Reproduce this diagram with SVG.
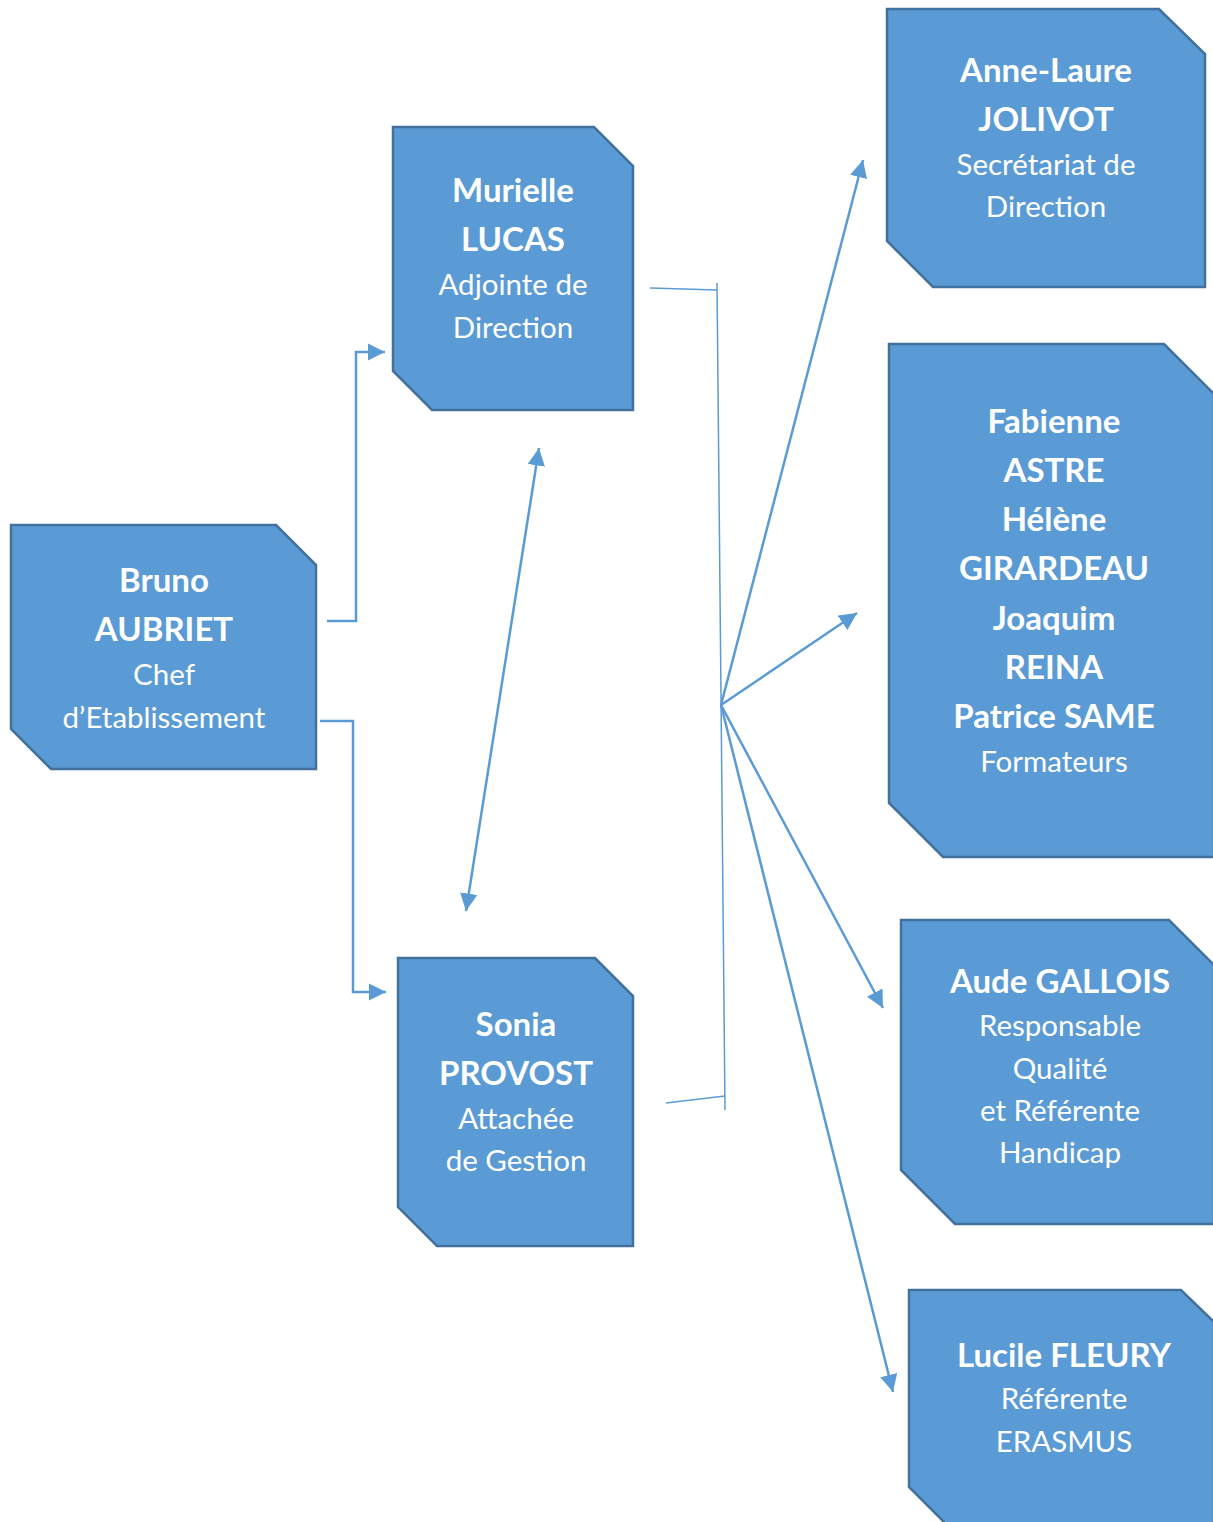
<svg xmlns="http://www.w3.org/2000/svg" width="1213" height="1522" viewBox="0 0 1213 1522">
<defs>
<marker id="arr" viewBox="0 0 10 10" refX="10" refY="5" markerWidth="7" markerHeight="7" orient="auto-start-reverse" markerUnits="strokeWidth">
<path d="M0,0 L10,5 L0,10 z" fill="#5B9BD5"/>
</marker>
</defs>
<style>
.box{fill:#5B9BD5;stroke:#41719C;stroke-width:2.5;}
.t{font-family:Lato,"Open Sans","Noto Sans",sans-serif;fill:#ffffff;text-anchor:middle;}
.b{font-weight:bold;font-size:33px;}
.r{font-size:29.5px;}
.c{fill:none;stroke:#5B9BD5;stroke-width:2.5;}
.th{fill:none;stroke:#5B9BD5;stroke-width:1.5;}
</style>
<rect width="1213" height="1522" fill="#ffffff"/>
<g id="connectors">
<polyline class="c" points="327,621 356,621 356,352 385,352" marker-end="url(#arr)"/>
<polyline class="c" points="320,721 353,721 353,992 386,992" marker-end="url(#arr)"/>
<line class="c" x1="539" y1="448" x2="466" y2="911" marker-start="url(#arr)" marker-end="url(#arr)"/>
<polyline class="th" points="650,288 717,290"/>
<line class="th" x1="717" y1="283" x2="725" y2="1110"/>
<polyline class="th" points="666,1103 725,1096"/>
<line class="c" x1="721" y1="705" x2="863" y2="160" marker-end="url(#arr)"/>
<line class="c" x1="721" y1="705" x2="857" y2="613" marker-end="url(#arr)"/>
<line class="c" x1="721" y1="705" x2="883" y2="1008" marker-end="url(#arr)"/>
<line class="c" x1="721" y1="705" x2="893" y2="1392" marker-end="url(#arr)"/>
</g>
<g id="bruno">
<polygon class="box" points="11,525 276,525 316,565 316,769 51,769 11,729"/>
<text class="t b" x="164" y="592">Bruno</text>
<text class="t b" x="164" y="641">AUBRIET</text>
<text class="t r" x="164" y="685">Chef</text>
<text class="t r" x="164" y="728">d’Etablissement</text>
</g>
<g id="murielle">
<polygon class="box" points="393,127 594,127 633,166 633,410 432,410 393,371"/>
<text class="t b" x="513" y="202">Murielle</text>
<text class="t b" x="513" y="251">LUCAS</text>
<text class="t r" x="513" y="295">Adjointe de</text>
<text class="t r" x="513" y="338">Direction</text>
</g>
<g id="sonia">
<polygon class="box" points="398,958 595,958 633,996 633,1246 437,1246 398,1207"/>
<text class="t b" x="516" y="1036">Sonia</text>
<text class="t b" x="516" y="1085">PROVOST</text>
<text class="t r" x="516" y="1129">Attachée</text>
<text class="t r" x="516" y="1171">de Gestion</text>
</g>
<g id="anne-laure">
<polygon class="box" points="887,9 1159,9 1205,54 1205,287 933,287 887,241"/>
<text class="t b" x="1046" y="82">Anne-Laure</text>
<text class="t b" x="1046" y="131">JOLIVOT</text>
<text class="t r" x="1046" y="175">Secrétariat de</text>
<text class="t r" x="1046" y="217">Direction</text>
</g>
<g id="formateurs">
<polygon class="box" points="889,344 1164,344 1214,394 1214,857 943,857 889,803"/>
<text class="t b" x="1054" y="433">Fabienne</text>
<text class="t b" x="1054" y="482">ASTRE</text>
<text class="t b" x="1054" y="531">Hélène</text>
<text class="t b" x="1054" y="580">GIRARDEAU</text>
<text class="t b" x="1054" y="630">Joaquim</text>
<text class="t b" x="1054" y="679">REINA</text>
<text class="t b" x="1054" y="728">Patrice SAME</text>
<text class="t r" x="1054" y="772">Formateurs</text>
</g>
<g id="aude">
<polygon class="box" points="901,920 1169,920 1214,965 1214,1224 955,1224 901,1170"/>
<text class="t b" x="1060" y="993">Aude GALLOIS</text>
<text class="t r" x="1060" y="1036">Responsable</text>
<text class="t r" x="1060" y="1079">Qualité</text>
<text class="t r" x="1060" y="1121">et Référente</text>
<text class="t r" x="1060" y="1163">Handicap</text>
</g>
<g id="lucile">
<polygon class="box" points="909,1290 1181,1290 1214,1322 1214,1524 946,1524 909,1487"/>
<text class="t b" x="1064" y="1367">Lucile FLEURY</text>
<text class="t r" x="1064" y="1409">Référente</text>
<text class="t r" x="1064" y="1452">ERASMUS</text>
</g>
</svg>
